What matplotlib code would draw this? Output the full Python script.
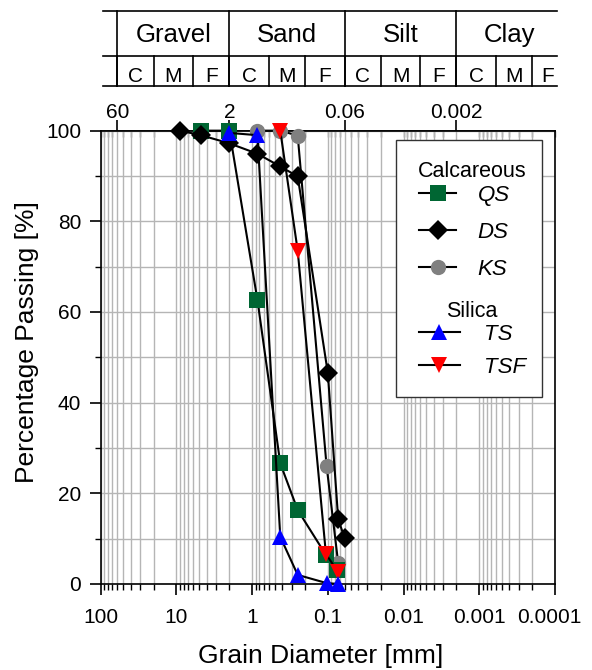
import numpy as np
import matplotlib.pyplot as plt
from matplotlib.ticker import LogLocator, FixedLocator, MultipleLocator, NullFormatter, FuncFormatter
from matplotlib.transforms import blended_transform_factory, ScaledTranslation
from matplotlib.lines import Line2D
from matplotlib.patches import Rectangle

plt.rcParams['font.family'] = ['Liberation Sans', 'DejaVu Sans']

# grain size distributions: sieve diameter [mm] and percentage passing [%]
qs_d = [4.75, 2.0, 0.85, 0.425, 0.25, 0.106, 0.075]
qs_p = [100, 100, 62.6, 26.6, 16.3, 6.4, 3.1]
ds_d = [9.0, 4.75, 2.0, 0.85, 0.425, 0.25, 0.1, 0.073, 0.06]
ds_p = [100, 99.0, 97.2, 94.9, 92.1, 89.9, 46.5, 14.3, 10.1]
ks_d = [0.85, 0.425, 0.25, 0.104, 0.073]
ks_p = [100, 100, 98.9, 26.1, 4.6]
ts_d = [2.0, 0.85, 0.425, 0.25, 0.104, 0.073]
ts_p = [99.5, 99.0, 10.4, 2.0, 0.2, 0.0]
tsf_d = [0.425, 0.25, 0.106, 0.073]
tsf_p = [100, 73.5, 6.6, 2.6]

# diameter axis decades
x_ticks = [100, 10, 1, 0.1, 0.01, 0.001, 0.0001]

# soil classes (upper boundaries in mm) and their sub-fractions
soil_classes = ['Gravel', 'Sand', 'Silt', 'Clay']
class_bounds = [60, 2, 0.06, 0.002]
class_labels = ['60', '2', '0.06', '0.002']
sub_labels = ['C', 'M', 'F']
sub_bounds = [60, 20, 6, 2, 0.6, 0.2, 0.06, 0.02, 0.006, 0.002, 0.0006, 0.0002, 0.00008]

fig = plt.figure(figsize=(5.92, 6.70), dpi=100)
ax = fig.add_axes([0.1701, 0.1284, 0.7674, 0.6766])
ax.set_xscale('log')

grid_c = '#b5b5b5'
ms = 11
common = dict(color='k', lw=1.5, clip_on=False, markeredgewidth=0)
h_ks, = ax.plot(ks_d, ks_p, marker='o', ms=ms, mfc='#808080', label='KS', zorder=3, **common)
h_qs, = ax.plot(qs_d, qs_p, marker='s', ms=ms, mfc='#006633', label='QS', zorder=4, **common)
h_ds, = ax.plot(ds_d, ds_p, marker='D', ms=ms - 1, mfc='k', label='DS', zorder=5, **common)
h_tsf, = ax.plot(tsf_d, tsf_p, marker='v', ms=ms + 1, mfc='#ff0000', label='TSF', zorder=6, **common)
h_ts, = ax.plot(ts_d, ts_p, marker='^', ms=ms + 1, mfc='#0000ff', label='TS', zorder=7, **common)

ax.set_xlim(100, 0.0001)
ax.set_ylim(0, 100)

ax.xaxis.set_major_locator(FixedLocator(x_ticks))
ax.xaxis.set_minor_locator(LogLocator(base=10, subs=np.arange(2, 10), numticks=100))
ax.xaxis.set_major_formatter(FuncFormatter(lambda v, pos: f'{v:g}'))
ax.xaxis.set_minor_formatter(NullFormatter())
ax.yaxis.set_major_locator(MultipleLocator(20))
ax.yaxis.set_minor_locator(MultipleLocator(10))

ax.grid(True, which='both', color=grid_c, lw=1.0)
ax.set_axisbelow(True)
for s in ax.spines.values():
    s.set_linewidth(1.2)
ax.tick_params(which='major', direction='out', length=8, width=1.2, labelsize=15)
ax.tick_params(axis='x', which='major', pad=9.5)
ax.tick_params(axis='y', which='major', pad=6)
ax.tick_params(which='minor', direction='out', length=4.5, width=1.0)

ax.set_xlabel('Grain Diameter [mm]', fontsize=19)
ax.set_ylabel('Percentage Passing [%]', fontsize=19)
ax.xaxis.set_label_coords(0.4838, -0.132)
ax.yaxis.set_label_coords(-0.136, 0.5345)

# class boundary axis on top
sec = ax.secondary_xaxis('top')
sec.set_xticks(class_bounds, labels=class_labels)
sec.xaxis.set_minor_locator(LogLocator(base=10, subs=np.arange(1, 10), numticks=100))
sec.xaxis.set_minor_formatter(NullFormatter())
sec.tick_params(which='major', direction='out', length=8, width=1.2, labelsize=15, pad=-1.5)
sec.tick_params(which='minor', direction='in', length=4, width=1.0, color='#707070')
sec.spines['top'].set_linewidth(1.2)

# classification table above the plot
tr = blended_transform_factory(ax.transData, fig.transFigure)
H = 670.0
y_top, y_mid, y_bot = 1 - 10.7 / H, 1 - 55.7 / H, 1 - 86.0 / H
x_left, x_right = 93.0, 9.4e-5
for yy in (y_top, y_mid, y_bot):
    fig.add_artist(Line2D([x_left, x_right], [yy, yy], transform=tr, color='k', lw=1.2))
for b in class_bounds:
    fig.add_artist(Line2D([b, b], [y_top, y_bot], transform=tr, color='k', lw=1.2))
for b in sub_bounds[:-1]:
    fig.add_artist(Line2D([b, b], [y_mid, y_bot], transform=tr, color='k', lw=1.2))

for i, name in enumerate(soil_classes):
    lo, hi = sub_bounds[3 * i], sub_bounds[3 * i + 3]
    ax.text(np.sqrt(lo * hi), 1 - 42.3 / H, name, transform=tr, ha='center',
            va='baseline', fontsize=18.5, clip_on=False)
for j in range(len(sub_bounds) - 1):
    c = np.sqrt(sub_bounds[j] * sub_bounds[j + 1])
    ax.text(c, 1 - 81.7 / H, sub_labels[j % 3], transform=tr, ha='center',
            va='baseline', fontsize=15, clip_on=False)

# legend: calcareous and silica groups in one frame
ax.add_patch(Rectangle((0.650, 0.4125), 0.321, 0.567, transform=ax.transAxes,
                       facecolor='white', edgecolor='#333333', lw=1.0, zorder=8))
ax.text(0.8167, 0.8985, 'Calcareous', transform=ax.transAxes, ha='center',
        va='baseline', fontsize=15.5, zorder=9)
ax.text(0.8167, 0.5897, 'Silica', transform=ax.transAxes, ha='center',
        va='baseline', fontsize=15.5, zorder=9)
leg_kw = dict(loc='upper center', frameon=False, prop={'style': 'italic', 'size': 16},
              borderaxespad=0, borderpad=0)
leg1 = ax.legend(handles=[h_qs, h_ds, h_ks], bbox_to_anchor=(0.80, 0.881),
                 handlelength=1.7, handletextpad=0.95, labelspacing=0.72, **leg_kw)
leg1.set_zorder(9)
ax.add_artist(leg1)
leg2 = ax.legend(handles=[h_ts, h_tsf], bbox_to_anchor=(0.818, 0.574),
                 handlelength=1.85, handletextpad=1.08, labelspacing=0.55, **leg_kw)
leg2.set_zorder(9)

# pull the last bottom label in a little so it stays inside the figure
fig.canvas.draw()
for lbl in ax.get_xticklabels():
    if lbl.get_text() == '0.0001':
        lbl.set_transform(lbl.get_transform() + ScaledTranslation(-4 / 72, 0, fig.dpi_scale_trans))

fig.savefig('out.png', dpi=100)
